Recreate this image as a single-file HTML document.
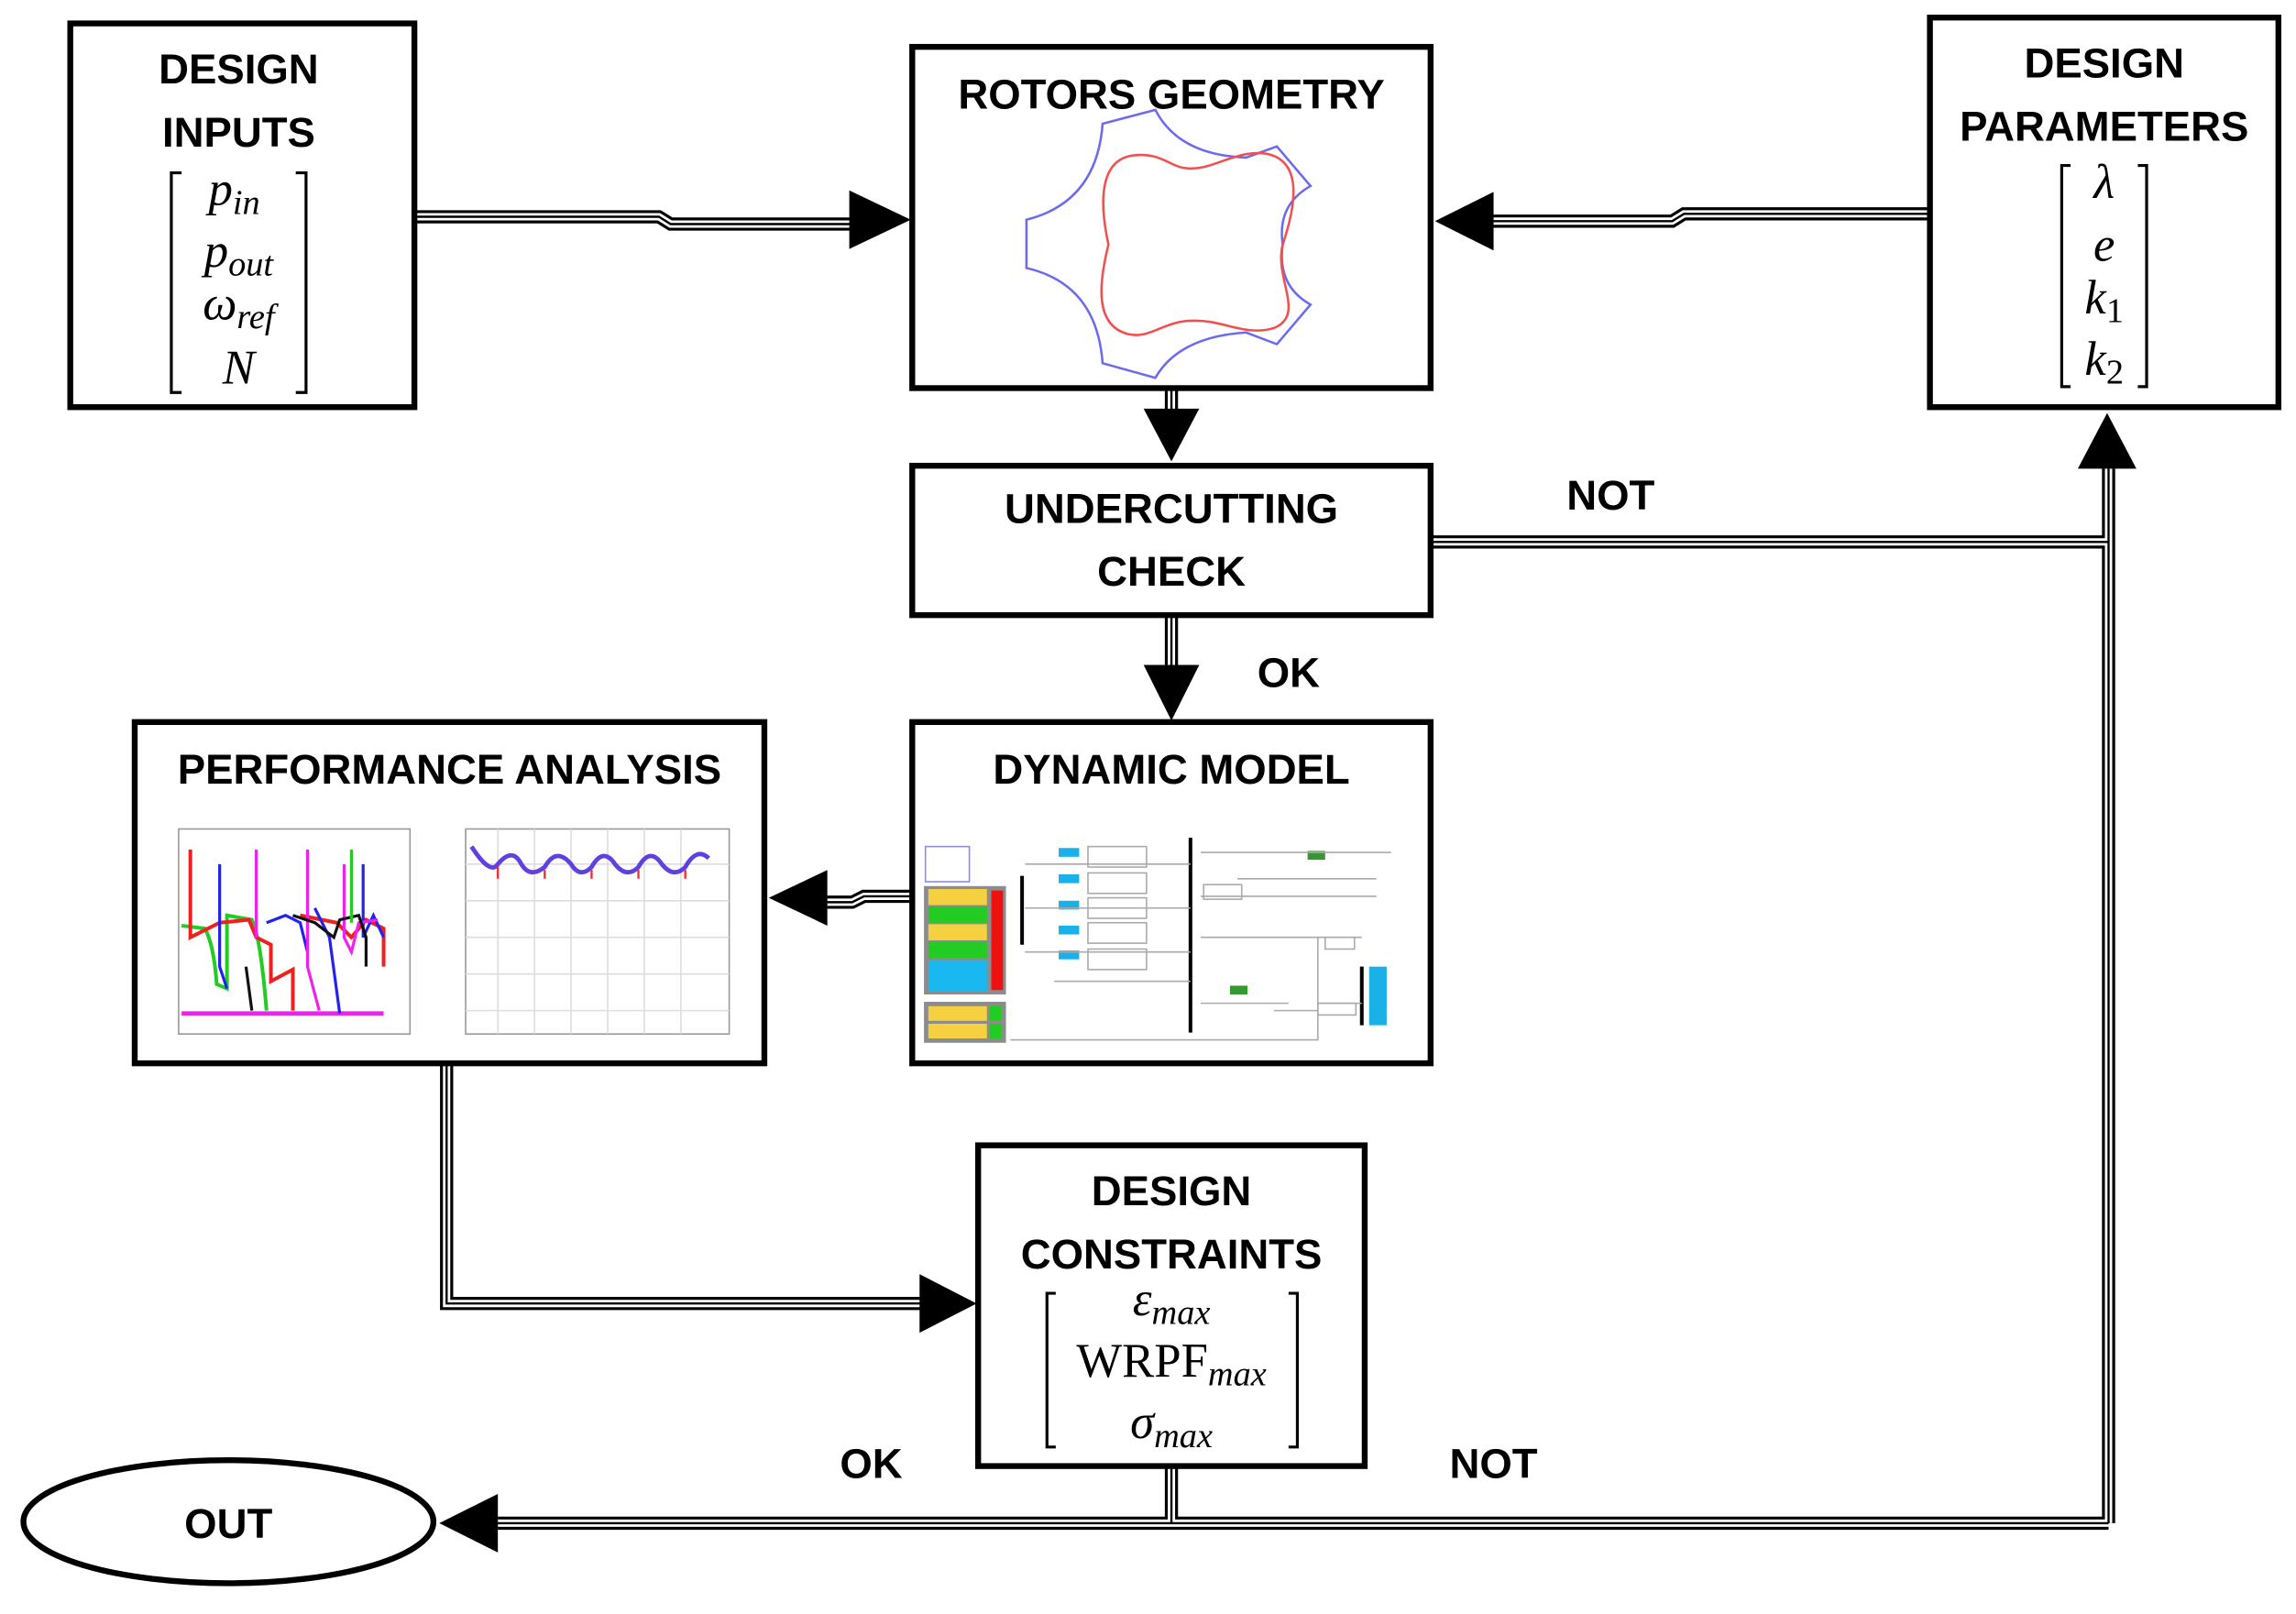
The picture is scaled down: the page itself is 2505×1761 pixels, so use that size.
<!DOCTYPE html>
<html><head><meta charset="utf-8"><style>
html,body{margin:0;padding:0;background:#fff;}
svg{display:block;}
.t{font-family:"Liberation Sans",sans-serif;font-weight:bold;font-size:28.5px;fill:#000;text-anchor:middle;}
.m{font-family:"Liberation Serif",serif;font-style:italic;font-size:33px;fill:#000;text-anchor:middle;}
.s{font-size:24px;}
.r{font-style:normal;}
</style></head><body>
<svg width="2505" height="1761" viewBox="0 0 1568 1102" preserveAspectRatio="none" xmlns="http://www.w3.org/2000/svg">
<g fill="none" stroke-linejoin="miter">
<g stroke="#000" stroke-width="9">
<path d="M283 148 H450 L458 153 H582"/>
<path d="M1318 146 H1150 L1142 151 H1020"/>
<path d="M800 265 V282"/>
<path d="M800 420 V456"/>
<path d="M977 370 H1440"/>
<path d="M1440 1040 V320"/>
<path d="M623 612 H590 L582 616 H565"/>
<path d="M305 726 V890 H630"/>
<path d="M800 1001 V1040"/>
<path d="M1440 1040 H340"/>
</g>
<g stroke="#fff" stroke-width="5">
<path d="M283 148 H450 L458 153 H582"/>
<path d="M1318 146 H1150 L1142 151 H1020"/>
<path d="M800 265 V282"/>
<path d="M800 420 V456"/>
<path d="M977 370 H1440"/>
<path d="M1440 1040 V320"/>
<path d="M623 612 H590 L582 616 H565"/>
<path d="M305 726 V890 H630"/>
<path d="M800 1001 V1040"/>
<path d="M1440 1040 H340"/>
</g>
<g stroke="#000" stroke-width="1.5">
<path d="M283 148 H450 L458 153 H582"/>
<path d="M1318 146 H1150 L1142 151 H1020"/>
<path d="M800 265 V282"/>
<path d="M800 420 V456"/>
<path d="M977 370 H1440"/>
<path d="M1440 1040 V320"/>
<path d="M623 612 H590 L582 616 H565"/>
<path d="M305 726 V890 H630"/>
<path d="M800 1001 V1040"/>
<path d="M1440 1040 H340"/>
</g>
</g>
<g fill="#000">
<polygon points="580,130 622,150 580,170"/>
<polygon points="1020,131 980,151 1020,171"/>
<polygon points="781,279 819,279 800,315"/>
<polygon points="781,454 819,454 800,492"/>
<polygon points="1419,320 1459,320 1439,282"/>
<polygon points="565,594 565,632 525,613"/>
<polygon points="628,870 628,910 667,890"/>
<polygon points="340,1020 340,1060 300,1040"/>
</g>
<g fill="#fff" stroke="#000" stroke-width="4">
<rect x="48" y="16" width="235" height="262"/>
<rect x="623" y="32" width="354" height="233"/>
<rect x="1318" y="12" width="238" height="266"/>
<rect x="623" y="318" width="354" height="102"/>
<rect x="623" y="493" width="354" height="233"/>
<rect x="92" y="493" width="430" height="233"/>
<rect x="668" y="782" width="264" height="219"/>
<ellipse cx="156" cy="1039" rx="140" ry="42"/>
</g>
<text class="t" x="163" y="57">DESIGN</text>
<text class="t" x="163" y="100">INPUTS</text>
<text class="t" x="800" y="74">ROTORS GEOMETRY</text>
<text class="t" x="1437" y="53">DESIGN</text>
<text class="t" x="1437" y="96">PARAMETERS</text>
<text class="t" x="800" y="357">UNDERCUTTING</text>
<text class="t" x="800" y="400">CHECK</text>
<text class="t" x="800" y="535">DYNAMIC MODEL</text>
<text class="t" x="307" y="535">PERFORMANCE ANALYSIS</text>
<text class="t" x="800" y="823">DESIGN</text>
<text class="t" x="800" y="866">CONSTRAINTS</text>
<text class="t" x="156" y="1050">OUT</text>
<text class="t" x="1100" y="348">NOT</text>
<text class="t" x="880" y="469">OK</text>
<text class="t" x="595" y="1009">OK</text>
<text class="t" x="1020" y="1009">NOT</text>
<g fill="none" stroke="#000" stroke-width="2">
<path d="M124 118 H117 V268 H124"/><path d="M202 118 H209 V268 H202"/>
<path d="M1414 113 H1408 V264 H1414"/><path d="M1460 113 H1466 V264 H1460"/>
<path d="M721 883 H715 V988 H721"/><path d="M880 883 H886 V988 H880"/>
</g>
<text class="m" x="160" y="140">p<tspan class="s" dy="6">in</tspan></text>
<text class="m" x="163" y="182">p<tspan class="s" dy="6">out</tspan></text>
<text class="m" x="163" y="218">ω<tspan class="s" dy="6">ref</tspan></text>
<text class="m" x="163" y="262">N</text>
<text class="m" x="1437" y="135">λ</text>
<text class="m" x="1437" y="178">e</text>
<text class="m" x="1437" y="214">k<tspan class="s r" dy="6">1</tspan></text>
<text class="m" x="1437" y="256">k<tspan class="s r" dy="6">2</tspan></text>
<text class="m" x="800" y="898">ε<tspan class="s" dy="6">max</tspan></text>
<text class="m" x="800" y="940"><tspan class="r">WRPF</tspan><tspan class="s" dy="6">max</tspan></text>
<text class="m" x="800" y="982">σ<tspan class="s" dy="6">max</tspan></text>
<!-- rotor geometry -->
<path d="M753 84.5 L789 75 Q805 106 851 107.6 L872 100 L895 127 Q872 140 876 167 Q872 195 895 208 L872 235 L851 227 Q805 230 789 258 L753 248 Q749 194 701 183 L701 150 Q749 138 753 84.5 Z" fill="none" stroke="#6b6bf0" stroke-width="1.6"/>
<path d="M757 167 C750 135 752 108 775 106 C795 104 800 116 814 115 C830 115 845 102 865 105 C890 110 885 140 876 167 C870 190 892 215 870 224 C850 230 835 218 814 219 C795 219 785 232 770 228 C748 222 750 195 757 167 Z" fill="none" stroke="#f05050" stroke-width="1.6"/>
<g>
<rect x="631" y="605" width="56" height="74" fill="#8c8c8c"/>
<rect x="634" y="607" width="40" height="11" fill="#f5d040"/>
<rect x="634" y="619" width="40" height="11" fill="#22cc22"/>
<rect x="634" y="631" width="40" height="11" fill="#f5d040"/>
<rect x="634" y="643" width="40" height="11" fill="#22cc22"/>
<rect x="634" y="656" width="40" height="21" fill="#1ab8f0"/>
<rect x="677" y="608" width="8" height="68" fill="#ee1111"/>
<rect x="631" y="684" width="56" height="28" fill="#8c8c8c"/>
<rect x="634" y="687" width="40" height="10" fill="#f5d040"/>
<rect x="634" y="699" width="40" height="10" fill="#f5d040"/>
<rect x="676" y="687" width="8" height="10" fill="#22cc22"/>
<rect x="676" y="699" width="8" height="10" fill="#22cc22"/>
<rect x="632" y="578" width="30" height="24" fill="none" stroke="#88f" stroke-width="1"/>
<g fill="#1ab0e8"><rect x="723" y="579" width="14" height="6"/><rect x="723" y="597" width="14" height="6"/><rect x="723" y="615" width="14" height="6"/><rect x="723" y="632" width="14" height="6"/><rect x="723" y="649" width="14" height="6"/><rect x="935" y="660" width="12" height="40"/></g>
<g fill="#339933"><rect x="893" y="581" width="12" height="6"/><rect x="840" y="673" width="12" height="6"/></g>
<g stroke="#000" stroke-width="2.5"><line x1="813" y1="572" x2="813" y2="705"/><line x1="698" y1="598" x2="698" y2="645"/><line x1="930" y1="660" x2="930" y2="700"/></g>
<g fill="none" stroke="#aaa" stroke-width="1">
<rect x="743" y="578" width="40" height="14"/><rect x="743" y="596" width="40" height="14"/><rect x="743" y="613" width="40" height="14"/><rect x="743" y="630" width="40" height="14"/><rect x="743" y="648" width="40" height="14"/>
<path d="M700 590 H813 M700 620 H813 M700 650 H813 M720 670 H813 M820 582 H950 M820 612 H940 M820 640 H930 M820 685 H880 M690 710 H900 V640 M845 600 H940 M870 690 H900 M900 685 H930"/>
<rect x="822" y="604" width="26" height="10"/><rect x="900" y="685" width="26" height="8"/><rect x="905" y="640" width="20" height="8"/>
</g>
</g>
<g fill="none" stroke-width="1">
<rect x="122" y="566" width="158" height="140" stroke="#999"/>
<rect x="318" y="566" width="180" height="140" stroke="#999"/>
<g stroke="#ddd"><path d="M340 566 V706 M365 566 V706 M390 566 V706 M415 566 V706 M440 566 V706 M465 566 V706 M318 590 H498 M318 615 H498 M318 640 H498 M318 665 H498 M318 690 H498"/></g>
<path d="M322 578 Q335 598 340 590 Q350 578 356 590 Q362 600 372 592 Q380 578 390 590 Q396 600 404 592 Q412 578 420 590 Q428 600 436 592 Q444 578 452 590 Q460 600 468 592 Q476 578 484 586" stroke="#6040e0" stroke-width="3"/>
<g stroke="#f03030" stroke-width="1.5"><path d="M340 592 V600 M372 594 V600 M404 594 V600 M436 594 V600 M468 594 V600"/></g>
<path d="M124 692 H262" stroke="#ee22ee" stroke-width="3"/>
<path d="M124 632 L140 634 Q146 645 148 672 L155 675 V625 L172 628 Q178 640 182 690" stroke="#22cc22" stroke-width="2.5"/>
<path d="M130 580 V640 L150 630 L170 628 L175 640 L185 645 V670 L200 662 L200 690 M205 625 L230 630 L240 640 L250 628 L262 634 V660" stroke="#f02020" stroke-width="2.5"/>
<path d="M150 590 V660 L155 675 M182 630 L195 625 L205 630 L210 650 M215 620 L225 640 L232 692 M248 590 V640 L255 625 L262 640" stroke="#2222f0" stroke-width="2"/>
<path d="M175 580 V640 M210 580 V660 L218 690 M235 590 V640 L240 650 L245 630 L258 628" stroke="#ee22ee" stroke-width="2"/>
<path d="M200 625 L215 630 L228 640 L232 628 L245 625 L250 640 V660 M168 660 L172 690" stroke="#111" stroke-width="2"/>
<path d="M240 580 V630" stroke="#22cc22" stroke-width="2"/>
</g>
</svg>
</body></html>
